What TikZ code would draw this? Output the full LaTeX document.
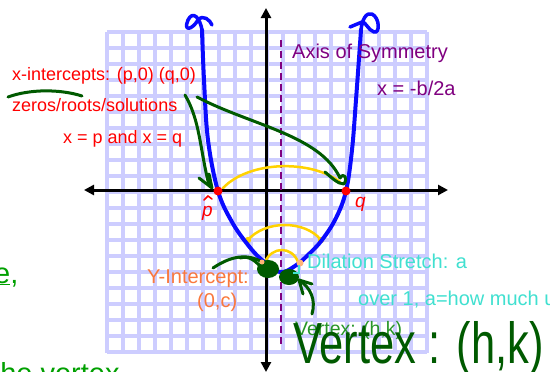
\documentclass[tikz,border=0pt]{standalone}
\usepackage{fontspec}
\setmainfont{Liberation Sans}
\usetikzlibrary{arrows.meta}
\definecolor{gridc}{RGB}{205,205,255}
\definecolor{curveblue}{RGB}{10,10,255}
\definecolor{axpurple}{RGB}{128,0,128}
\definecolor{inkgreen}{RGB}{0,90,0}
\definecolor{txtgreen}{RGB}{40,150,40}
\definecolor{brightgreen}{RGB}{0,160,0}
\definecolor{yel}{RGB}{255,210,0}
\definecolor{orng}{RGB}{250,120,60}
\definecolor{lorng}{RGB}{255,180,120}
\definecolor{cyn}{RGB}{64,224,208}
\tikzset{
  gridline/.style={draw=gridc,line width=3.5pt},
  axisline/.style={line width=3pt,{Triangle[length=10pt,width=10pt]}-{Triangle[length=10pt,width=10pt]}},
  symline/.style={draw=axpurple,line width=2.5pt,dash pattern=on 7pt off 4pt},
  blueink/.style={draw=curveblue,line width=4pt,line cap=round,line join=round},
  yelink/.style={draw=yel,line width=2.5pt,line cap=round},
  greenink/.style={draw=inkgreen,line width=3pt,line cap=round,line join=round},
  lbl/.style={anchor=base west,inner sep=0pt},
  red18/.style={lbl,text=red,font=\fontsize{18}{18}\selectfont},
  pur20/.style={lbl,text=axpurple,font=\fontsize{20}{20}\selectfont},
}
\begin{document}
\begin{tikzpicture}[x=1pt,y=-1pt]
\useasboundingbox (0,0) rectangle (550,372);
\clip (0,0) rectangle (550,372);
\fill[white] (0,0) rectangle (550,372);
% grid
\foreach \i in {0,...,20} {
  \draw[gridline] ({107+16*\i},32) -- ({107+16*\i},353);
  \draw[gridline] (107,{32+16*\i}) -- (427,{32+16*\i});
}
% axes
\coordinate (ytop) at (266,8);
\coordinate (ybot) at (266,372);
\coordinate (xl) at (84,190);
\coordinate (xr) at (448,190);
\draw[axisline] (ybot) -- (ytop);
\draw[axisline] (xl) -- (xr);
% axis of symmetry
\coordinate (s1) at (281,40);
\coordinate (s2) at (281,346);
\draw[symline] (s1) -- (s2);
% yellow arcs
\draw[yelink] (223,188) .. controls (250,160) and (312,160) .. (340,182);
\draw[yelink] (248,240) .. controls (265,220) and (305,220) .. (321,240);
\draw[yelink] (265,262) .. controls (272,246) and (292,246) .. (298,262);
\fill[yel] (248,240) circle (3.2) (321,240) circle (3.2);
% parabola
\draw[blueink] plot[smooth,tension=0.6] coordinates {(202,30) (204,80) (208,140) (218,191) (232,222) (248,245) (262,260) (280,272) (295,266) (308,255) (322,240) (336,218) (346,191) (352,150) (356,100) (361,30)};
\draw[blueink,line width=3.5pt] (202,30) .. controls (200,18) and (193,10) .. (188,20) .. controls (183,32) and (192,30) .. (198,20) .. controls (203,14) and (210,20) .. (212,25);
\draw[blueink,line width=3.5pt] (361,30) .. controls (362,20) and (366,12) .. (372,14) .. controls (380,18) and (380,34) .. (374,32) .. controls (368,30) and (366,22) .. (362,22) -- (350,27);
% x-intercept dots
\fill[red] (218,191) circle (4.5);
\fill[red] (346,191) circle (4.5);
\draw[red,line width=1.5pt,line cap=round] (204,200) -- (208,196) -- (212,199);
\node[lbl,text=red,font=\fontsize{19}{19}\selectfont\itshape] (pl) at (202,216) {p};
\node[lbl,text=red,font=\fontsize{19}{19}\selectfont\itshape] (ql) at (355,207) {q};
% green ink
\draw[greenink] (8,97) .. controls (30,89) and (60,89) .. (82,96);
\draw[greenink] (185,95) .. controls (200,120) and (200,150) .. (209,185);
\draw[greenink] (199,178) -- (212,188) -- (209,174);
\draw[greenink] (197,97) .. controls (250,125) and (320,135) .. (340,178);
\draw[greenink] (325,172) .. controls (332,178) and (338,184) .. (344,184) .. controls (348,178) and (344,172) .. (340,178);
\draw[greenink] (213,268) .. controls (228,258) and (245,252) .. (262,262);
\draw[greenink] (240,258) .. controls (250,255) and (256,262) .. (262,268);
\fill[inkgreen] (268,269) ellipse (11 and 9);
\fill[inkgreen] (289,277) ellipse (10 and 8);
\draw[greenink] (312,314) .. controls (316,300) and (311,288) .. (299,280);
\draw[greenink] (312,284) -- (299,280) -- (303,294);
% small marks near vertex
\fill[lorng] (300,263) circle (3.5);
\fill[lorng] (262,262) circle (2.5);
\draw[cyn,line width=1.5pt] (299,265) -- (299,273) -- (293,273);
% texts
\node[red18] (xint) at (12,81) {x-intercepts: (p,0) (q,0)};
\node[red18] (zeros) at (12,111) {zeros/roots/solutions};
\node[red18] (xpq) at (63,143) {x = p and x = q};
\node[pur20] (aos) at (292,59) {Axis of Symmetry};
\node[pur20] (bform) at (377,95) {x = -b/2a};
\node[lbl,text=orng,font=\fontsize{20}{20}\selectfont] (yint) at (147,283) {Y-Intercept:};
\node[lbl,text=orng,font=\fontsize{20}{20}\selectfont] (zc) at (197,307) {(0,c)};
\node[lbl,text=cyn,font=\fontsize{20}{20}\selectfont] (dil) at (307,268) {Dilation Stretch: a};
\node[lbl,text=cyn,font=\fontsize{20}{20}\selectfont] (over) at (358,305) {over 1, a=how much u};
\node[lbl,text=txtgreen,font=\fontsize{19.5}{19.5}\selectfont] (vsmall) at (295,335) {Vertex: (h,k)};
\node[lbl,text=inkgreen,font=\fontsize{58}{58}\selectfont,xscale=0.75] (vbig) at (293,363) {Vertex : (h,k)};
\node[lbl,text=brightgreen,font=\fontsize{29}{29}\selectfont] (eword) at (-6,283) {\underline{e},};
\node[lbl,text=brightgreen,font=\fontsize{29}{29}\selectfont] (thev) at (-8,383) {the vertex};
\end{tikzpicture}
\end{document}
